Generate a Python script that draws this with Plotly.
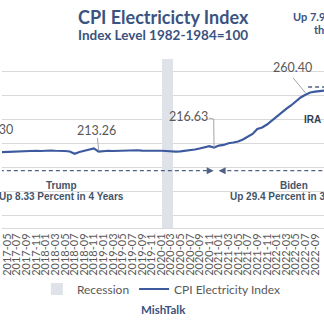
import plotly.graph_objects as go
import pandas as pd

# ---- data ----
months = [p.strftime("%Y-%m") for p in pd.period_range("2017-03", "2022-12", freq="M")]
cpi_values = [
    212.8, 213.0, 213.2, 213.4, 213.5, 213.8, 213.4, 213.6, 214.0, 213.8,   # 2017-03..2017-12
    214.1, 214.2, 214.0, 214.2, 213.8, 213.4, 211.5, 213.0, 214.2, 215.0, 216.0, 213.26,  # 2018
    213.8, 214.0, 213.8, 214.0, 213.8, 214.2, 214.1, 214.4, 214.1, 214.2, 214.0, 214.2,   # 2019
    214.0, 213.8, 213.4, 213.2, 213.5, 213.8, 214.4, 215.0, 215.9, 216.9, 217.8, 216.63,  # 2020
    218.3, 218.8, 220.2, 220.8, 221.7, 223.3, 225.4, 227.9, 232.0, 233.3, 235.7, 239.1,   # 2021
    242.4, 245.7, 248.6, 251.5, 254.8, 258.1, 260.40, 262.3, 262.9, 263.5, 263.9, 264.3,  # 2022
]
recession_months = ["2020-02", "2020-03"]
recession_level = [290, 290]
label_months = ["2018-12", "2020-12", "2022-07"]
label_values = [213.26, 216.63, 260.40]

BLUE = "#3D5A9E"
TITLE = "#3A5380"
GRAY = "#595959"
SLATE = "#44546A"
GRID = "#D9D9D9"
LEAD = "#A6A6A6"

fig = go.Figure()
fig.add_trace(go.Bar(x=recession_months, y=recession_level, width=1.15, offset=-0.75,
                     marker=dict(color="#DFE3E9", line=dict(width=0)),
                     name="Recession"))
fig.add_trace(go.Scatter(x=months, y=cpi_values, mode="lines",
                         line=dict(color=BLUE, width=2.2),
                         name="CPI Electricity Index"))

idx = {m: i for i, m in enumerate(months)}

ann = []
def txt(x, y, t, size=12.5, color=GRAY, fam="Lato", bold=False, xanchor="center", xref="x", yref="y"):
    ann.append(dict(x=x, y=y, xref=xref, yref=yref, text=(f"<b>{t}</b>" if bold else t),
                    showarrow=False, xanchor=xanchor, yanchor="middle",
                    font=dict(family=fam, size=size, color=color)))

# value labels
txt(3.59, 232.0, "210.30", xanchor="right")
txt(20.53, 230.4, "213.26")
txt(39.75, 241.96, "216.63")
txt(61.35, 282.55, "260.40")

# period labels
txt(13.3, 184.8, "Trump", size=10, color=SLATE, fam="Liberation Sans", bold=True)
txt(13.3, 175.7, "Up 8.33 Percent in 4 Years", size=10, color=SLATE, fam="Liberation Sans", bold=True)
txt(61.66, 184.8, "Biden", size=10, color=SLATE, fam="Liberation Sans", bold=True)
txt(61.35, 175.7, "Up 29.4 Percent in 3 Years", size=10, color=SLATE, fam="Liberation Sans", bold=True)
txt(63.3, 239.5, "IRA Signed", size=10, color="#333F50", fam="Liberation Sans", bold=True, xanchor="left")

# titles (paper)
txt(0.5, 1.2485, "CPI Electricicty Index", size=18, color=TITLE, bold=True, xref="paper", yref="paper")
txt(0.5, 1.142, "Index Level 1982-1984=100", size=13.5, color=TITLE, bold=True, xref="paper", yref="paper")
txt(0.897, 1.2544, "Up 7.9 Percent in", size=11, color=TITLE, bold=True, xanchor="left", xref="paper", yref="paper")
txt(0.963, 1.1775, "the Last Year", size=11, color=TITLE, bold=True, xanchor="left", xref="paper", yref="paper")
txt(0.5, -0.485, "MishTalk", size=11.5, color=TITLE, bold=True, xref="paper", yref="paper")

# arrow heads
DASHC = "#4F6283"
ann.append(dict(x=44.92, y=197.5, xref="x", yref="y", text="", showarrow=True, ax=-7, ay=0,
                arrowhead=2, arrowsize=1, arrowwidth=1.4, arrowcolor=DASHC))
ann.append(dict(x=45.95, y=197.5, xref="x", yref="y", text="", showarrow=True, ax=7, ay=0,
                arrowhead=2, arrowsize=1, arrowwidth=1.4, arrowcolor=DASHC))

shapes = []
def seg(x0, y0, x1, y1, color, width=1, dash=None):
    shapes.append(dict(type="line", xref="x", yref="y", x0=x0, y0=y0, x1=x1, y1=y1,
                       line=dict(color=color, width=width, dash=dash)))

# leader lines
seg(20.74, 224.6, idx[label_months[0]], label_values[0] + 1.2, LEAD)
seg(43.9, 241.1, 44.92, 240.3, LEAD)
seg(44.92, 240.3, idx[label_months[1]], label_values[1], LEAD)
seg(61.45, 274.3, idx[label_months[2]], label_values[2] + 1.5, LEAD)

# dashed period arrows
seg(-1, 197.5, 44.6, 197.5, DASHC, 1.4, "4px,3px")
seg(46.3, 197.5, 72, 197.5, DASHC, 1.4, "4px,3px")
seg(64.55, 266.8, 72, 266.8, DASHC, 1.4, "4px,3px")

fig.update_layout(
    width=324, height=325,
    margin=dict(l=0, r=0, t=59, b=97),
    paper_bgcolor="white", plot_bgcolor="white",
    bargap=0,
    showlegend=True,
    legend=dict(orientation="h", x=0.495, xanchor="center", y=-0.361, yanchor="middle",
                font=dict(family="Lato", size=12, color=GRAY), itemwidth=30,
                bgcolor="rgba(0,0,0,0)"),
    annotations=ann,
    shapes=shapes,
    xaxis=dict(type="category", categoryorder="array", categoryarray=months,
               range=[0.9, 67.86], tickmode="linear", tick0=0, dtick=2,
               tickangle=-90, showgrid=False, showline=True, linecolor=GRID, linewidth=1,
               ticks="", tickfont=dict(family="Lato", size=11, color=GRAY)),
    yaxis=dict(range=[150, 290], dtick=20, showticklabels=False, showgrid=True,
               gridcolor=GRID, gridwidth=1, zeroline=False),
)

fig.write_html("out.html")
